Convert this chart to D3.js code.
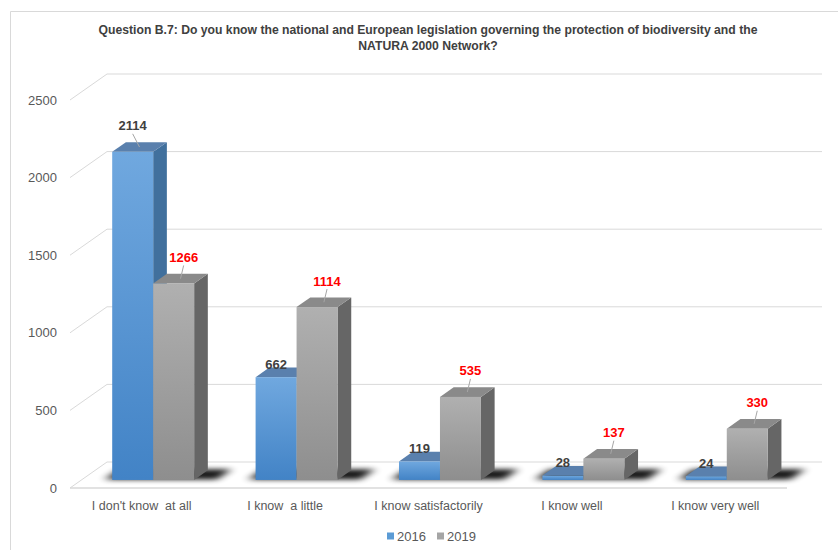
<!DOCTYPE html>
<html>
<head>
<meta charset="utf-8">
<script src="https://cdn.jsdelivr.net/npm/d3@7"></script>
<style>
  body { margin: 0; background: #fff; }
  svg { display: block; font-family: "Liberation Sans", Arial, sans-serif; }
</style>
</head>
<body>
<div id="container"></div>
<script>
// ******* Data *******
var categories = ["I don't know  at all", "I know  a little", "I know satisfactorily", "I know well", "I know very well"];
var years = ["2016", "2019"];
var values2016 = [2114, 662, 119, 28, 24];
var values2019 = [1266, 1114, 535, 137, 330];
var yTicks = [0, 500, 1000, 1500, 2000, 2500];
var titleLines = ["Question B.7: Do you know the national and European legislation governing the protection of biodiversity and the",
                  "NATURA 2000 Network?"];

// ******* Layout / style *******
var width = 838, height = 550;
var DX = 37, DY = 26;           // full floor depth offset (oblique projection)
var d0 = 0.31, d1 = 0.68;       // bar front / back depth
var colors = {
  "2016": { top: "#5a80ad", side: "#41709d", f1: "#70a8df", f2: "#4283c6", label: "#404040", legend: "#5b9bd5" },
  "2019": { top: "#8a8a8a", side: "#666666", f1: "#b0b0b0", f2: "#8e8e8e", label: "#ff0000", legend: "#a5a5a5" }
};

var svg = d3.select("#container").append("svg")
  .attr("width", width)
  .attr("height", height);

svg.append("rect").attr("width", width).attr("height", height).attr("fill", "#fff");

// chart border (only top and left visible)
svg.append("path")
  .attr("d", "M10.5,550 V11.5 H838")
  .attr("fill", "none")
  .attr("stroke", "#d9d9d9");

var defs = svg.append("defs");
years.forEach(function(yr) {
  var g = defs.append("linearGradient").attr("id", "grad" + yr)
    .attr("x1", 0).attr("y1", 0).attr("x2", 0).attr("y2", 1);
  g.append("stop").attr("offset", "0%").attr("stop-color", colors[yr].f1);
  g.append("stop").attr("offset", "100%").attr("stop-color", colors[yr].f2);
});
defs.append("filter").attr("id", "blur")
  .attr("x", "-50%").attr("y", "-200%").attr("width", "200%").attr("height", "500%")
  .append("feGaussianBlur").attr("stdDeviation", "5 2.5");

// ******* Scales *******
var x0 = d3.scaleBand().domain(categories).range([70, 787]).padding(0);
var x1 = d3.scaleBand().domain(years).range([0, x0.bandwidth()]).paddingInner(0).paddingOuter(0.75);
var y = d3.scaleLinear().domain([0, 2500]).range([488, 100]);

function px(x, d) { return x + d * DX; }
function py(v, d) { return y(v) - d * DY; }

// ******* Gridlines (side wall + back wall) *******
var grid = svg.append("g").attr("stroke", "#d9d9d9").attr("fill", "none");
yTicks.forEach(function(t) {
  grid.append("path")
    .attr("d", "M" + px(70, 0) + "," + py(t, 0) + " L" + px(70, 1) + "," + py(t, 1) + " H" + 822);
});
// floor front edge
grid.append("line")
  .attr("x1", 70).attr("x2", 787).attr("y1", y(0)).attr("y2", y(0))
  .attr("stroke-width", 1.5);

// ******* Y axis labels *******
svg.append("g").selectAll("text").data(yTicks).enter().append("text")
  .attr("x", 57)
  .attr("y", function(d) { return y(d); })
  .attr("dy", "0.35em")
  .attr("text-anchor", "end")
  .style("font-size", "13px")
  .attr("fill", "#595959")
  .text(function(d) { return d; });

// ******* Build bar table *******
var bars = [];
categories.forEach(function(c, i) {
  bars.push({ cat: c, year: "2016", value: values2016[i], other: values2019[i] });
  bars.push({ cat: c, year: "2019", value: values2019[i], other: values2016[i] });
});

// ******* Shadows *******
svg.append("g").selectAll("path").data(categories).enter().append("path")
  .attr("filter", "url(#blur)")
  .attr("fill", "#000")
  .attr("opacity", 0.9)
  .attr("d", function(c) {
    var xl = x0(c) + x1("2016") - 8, xr = x0(c) + x1("2019") + x1.bandwidth() + 22;
    var a = d0 + 0.02, b = d1 + 0.04;
    return "M" + px(xl, a) + "," + py(0, a) +
      " L" + px(xr, a) + "," + py(0, a) +
      " L" + px(xr, b) + "," + py(0, b) +
      " L" + px(xl, b) + "," + py(0, b) + "Z";
  });

// ******* 3D bars *******
var barG = svg.append("g").selectAll("g").data(bars).enter().append("g");

// side face
barG.append("path")
  .attr("fill", function(d) { return colors[d.year].side; })
  .attr("d", function(d) {
    var xr = x0(d.cat) + x1(d.year) + x1.bandwidth();
    return "M" + px(xr, d0) + "," + py(d.value, d0) +
      " L" + px(xr, d1) + "," + py(d.value, d1) +
      " L" + px(xr, d1) + "," + py(0, d1) +
      " L" + px(xr, d0) + "," + py(0, d0) + "Z";
  });
// top face
barG.append("path")
  .attr("fill", function(d) { return colors[d.year].top; })
  .attr("d", function(d) {
    var xl = x0(d.cat) + x1(d.year), xr = xl + x1.bandwidth();
    return "M" + px(xl, d0) + "," + py(d.value, d0) +
      " L" + px(xr, d0) + "," + py(d.value, d0) +
      " L" + px(xr, d1) + "," + py(d.value, d1) +
      " L" + px(xl, d1) + "," + py(d.value, d1) + "Z";
  });
// front face
barG.append("rect")
  .attr("fill", function(d) { return "url(#grad" + d.year + ")"; })
  .attr("x", function(d) { return px(x0(d.cat) + x1(d.year), d0); })
  .attr("y", function(d) { return py(d.value, d0); })
  .attr("width", x1.bandwidth())
  .attr("height", function(d) { return py(0, d0) - py(d.value, d0); });

// ******* Value labels (with leader lines when lifted) *******
function lifted(d) { return d.year === "2019" || d.value > d.other; }
function labelX(d) {
  var cx = px(x0(d.cat) + x1(d.year) + x1.bandwidth() / 2, d0);
  return d.year === "2019" ? cx + 10 : cx;
}
function labelY(d) { return py(d.value, d0) - (lifted(d) ? 26 : 13); }

barG.filter(lifted).append("path")
  .attr("fill", "none")
  .attr("stroke", "#a6a6a6")
  .attr("d", function(d) {
    var cx = px(x0(d.cat) + x1(d.year) + x1.bandwidth() / 2, (d0 + d1) / 2);
    var cy = py(d.value, (d0 + d1) / 2);
    return "M" + cx + "," + cy + " L" + labelX(d) + "," + (labelY(d) + 8);
  });

barG.append("text")
  .attr("x", labelX)
  .attr("y", labelY)
  .attr("dy", "0.35em")
  .attr("text-anchor", "middle")
  .style("font-size", "13px")
  .style("font-weight", "bold")
  .attr("fill", function(d) { return colors[d.year].label; })
  .text(function(d) { return d.value; });

// ******* Category labels *******
svg.append("g").selectAll("text").data(categories).enter().append("text")
  .attr("x", function(d) { return x0(d) + x0.bandwidth() / 2; })
  .attr("y", 506)
  .attr("dy", "0.35em")
  .attr("text-anchor", "middle")
  .style("font-size", "12.5px")
  .style("white-space", "pre")
  .attr("xml:space", "preserve")
  .attr("fill", "#595959")
  .text(function(d) { return d; });

// ******* Title *******
svg.append("g").selectAll("text").data(titleLines).enter().append("text")
  .attr("x", 428)
  .attr("y", function(d, i) { return 30 + i * 16; })
  .attr("dy", "0.35em")
  .attr("text-anchor", "middle")
  .style("font-size", "12.2px")
  .style("font-weight", "bold")
  .attr("fill", "#404040")
  .text(function(d) { return d; });

// ******* Legend *******
var legend = svg.append("g").selectAll("g").data(years).enter().append("g")
  .attr("transform", function(d, i) { return "translate(" + (387 + i * 50) + ",536)"; });
legend.append("rect")
  .attr("x", 0).attr("y", -3.5).attr("width", 7).attr("height", 7)
  .attr("fill", function(d) { return colors[d].legend; });
legend.append("text")
  .attr("x", 10).attr("y", 0).attr("dy", "0.35em")
  .style("font-size", "13px")
  .attr("fill", "#595959")
  .text(function(d) { return d; });
</script>
</body>
</html>
